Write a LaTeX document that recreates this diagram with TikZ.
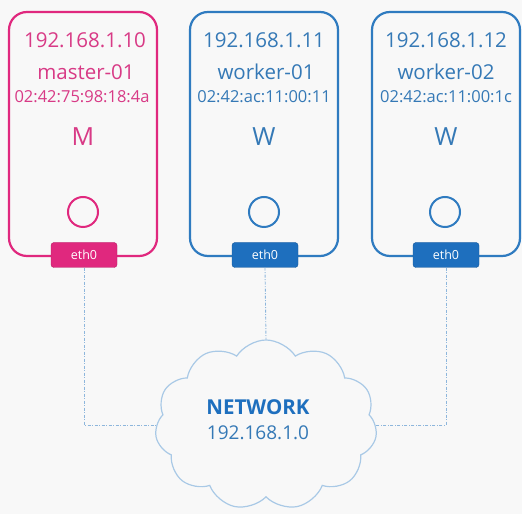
\documentclass[tikz,border=0pt]{standalone}
\usepackage{fontspec}
\setmainfont{Open Sans}
\usetikzlibrary{shapes.symbols}
\definecolor{pinkc}{HTML}{E0287E}
\definecolor{pinkt}{HTML}{D83A86}
\definecolor{bluec}{HTML}{2F7BC0}
\definecolor{bluet}{HTML}{3579B6}
\definecolor{bluef}{HTML}{1E6FBE}
\definecolor{cloudc}{HTML}{A9C9E6}
\definecolor{dashc}{HTML}{8DB6DC}
\definecolor{bgc}{HTML}{F8F8F8}
\tikzset{
  host/.style={draw=#1, line width=2.2pt, rounded corners=18pt, minimum width=148pt, minimum height=244pt, inner sep=0pt},
  iface/.style={draw=#1!80!black, fill=#1, rounded corners=3pt, minimum width=66pt, minimum height=25pt, inner sep=0pt, text=white, font=\fontsize{12.5}{13}\selectfont},
  port/.style={draw=#1, line width=2pt, circle, minimum size=30pt, inner sep=0pt},
  ipt/.style={text=#1, font=\fontsize{20.5}{22}\selectfont, inner sep=0pt},
  namet/.style={text=#1, font=\fontsize{20.5}{22}\selectfont, inner sep=0pt},
  mact/.style={text=#1, font=\fontsize{16.5}{18}\selectfont, inner sep=0pt},
  rolet/.style={text=#1, font=\fontsize{25}{26}\selectfont, inner sep=0pt},
  link/.style={draw=dashc, line width=0.9pt, dash pattern=on 3pt off 1.5pt on 1pt off 1.5pt},
}
\begin{document}
\begin{tikzpicture}[x=1pt,y=1pt]
\fill[bgc] (0,0) rectangle (522,514);
\useasboundingbox (0,0) rectangle (522,514);

% hosts
\node[host=pinkc] (h1) at (83,380) {};
\node[host=bluec] (h2) at (264,380) {};
\node[host=bluec] (h3) at (446,380) {};

% texts
\node[ipt=pinkt] (ip1) at (85,474) {192.168.1.10};
\node[namet=pinkt] (n1) at (86,442) {master-01};
\node[mact=pinkt] (m1) at (82,417) {02:42:75:98:18:4a};
\node[rolet=pinkt] (r1) at (83,377) {M};

\node[ipt=bluet] (ip2) at (264,474) {192.168.1.11};
\node[namet=bluet] (n2) at (266,442) {worker-01};
\node[mact=bluet] (m2) at (264,417) {02:42:ac:11:00:11};
\node[rolet=bluet] (r2) at (264,377) {W};

\node[ipt=bluet] (ip3) at (446,474) {192.168.1.12};
\node[namet=bluet] (n3) at (446,442) {worker-02};
\node[mact=bluet] (m3) at (446,417) {02:42:ac:11:00:1c};
\node[rolet=bluet] (r3) at (446,377) {W};

% ports
\node[port=pinkc] (p1) at (83,302) {};
\node[port=bluec] (p2) at (264,302) {};
\node[port=bluec] (p3) at (445,302) {};

% interfaces
\node[iface=pinkc] (e1) at (84,259) {eth0};
\node[iface=bluef] (e2) at (265,259) {eth0};
\node[iface=bluef] (e3) at (446,259) {eth0};

% cloud
\node[cloud, draw=cloudc, fill=bgc, line width=1.2pt, cloud puffs=11, cloud puff arc=115, aspect=1.3, minimum width=222pt, minimum height=170pt, inner sep=0pt] (net) at (266,89) {};
\node[text=bluef, font=\bfseries\fontsize{20.5}{22}\selectfont, inner sep=0pt] (nt) at (258,107) {NETWORK};
\node[text=bluet, font=\fontsize{19}{20}\selectfont, inner sep=0pt] (nip) at (258,81) {192.168.1.0};

% links
\draw[link] (e1.south) |- (net.west);
\draw[link] (e2.south) -- (net.north);
\draw[link] (e3.south) |- (net.east);
\end{tikzpicture}
\end{document}
